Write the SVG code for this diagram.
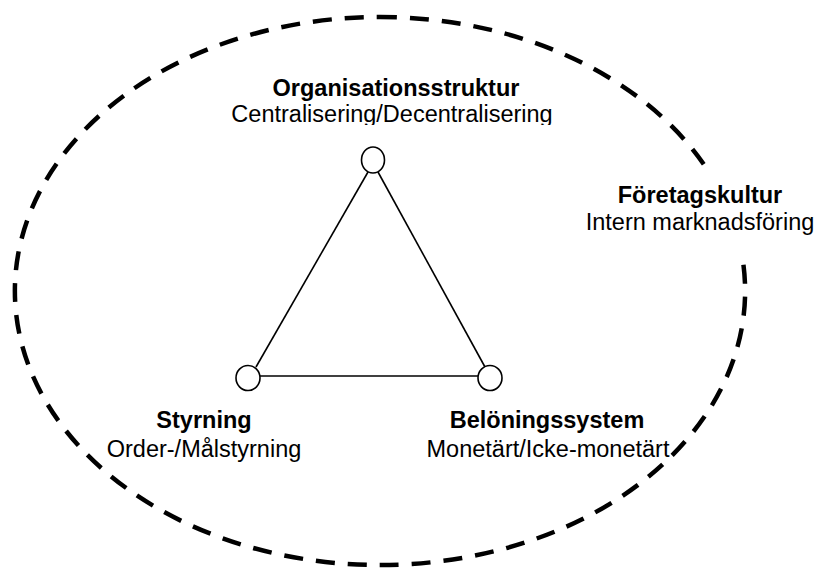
<svg xmlns="http://www.w3.org/2000/svg" width="819" height="574" viewBox="0 0 819 574">
  <style>
    .lbl { font-family: "Liberation Sans", Arial, sans-serif; font-size: 23.5px; fill: #000; text-anchor: middle; }
    .b { font-weight: bold; }
    .node { fill: #fff; stroke: #000; stroke-width: 1.6; }
    .edge { stroke: #000; stroke-width: 1.6; fill: none; }
    .boundary { fill: none; stroke: #000; stroke-width: 4.5; stroke-dasharray: 19 13; stroke-dashoffset: 2; }
  </style>
  <defs>
    <clipPath id="clipTop">
      <rect x="200" y="60" width="400" height="65"/>
    </clipPath>
  </defs>
  <rect width="819" height="574" fill="#fff"/>

  <!-- outer dashed boundary, drawn clockwise from the top -->
  <g id="boundary">
    <path class="boundary" d="M 380 17 A 365 274 0 1 1 380 565 A 365 274 0 1 1 380 17 Z"/>
  </g>

  <!-- triangle connectors -->
  <g id="connectors">
    <line class="edge" x1="368" y1="172" x2="256" y2="367"/>
    <line class="edge" x1="378" y1="172" x2="485" y2="367"/>
    <line class="edge" x1="260" y1="376" x2="478" y2="376"/>
  </g>

  <g id="node-org">
    <ellipse class="node" cx="373" cy="160" rx="11.5" ry="13"/>
  </g>
  <g id="node-styrning">
    <ellipse class="node" cx="248" cy="378" rx="12" ry="12.5"/>
  </g>
  <g id="node-beloning">
    <ellipse class="node" cx="490" cy="378" rx="12" ry="12.5"/>
  </g>

  <!-- labels -->
  <g id="label-org" clip-path="url(#clipTop)">
    <text class="lbl b" x="396" y="96">Organisationsstruktur</text>
    <text class="lbl" x="392" y="122">Centralisering/Decentralisering</text>
  </g>
  <g id="label-kultur">
    <rect x="578" y="174" width="241" height="84" fill="#fff"/>
    <text class="lbl b" x="700" y="203">Företagskultur</text>
    <text class="lbl" x="700" y="230">Intern marknadsföring</text>
  </g>
  <g id="label-styrning">
    <text class="lbl b" x="204" y="428">Styrning</text>
    <text class="lbl" x="204" y="457">Order-/Målstyrning</text>
  </g>
  <g id="label-beloning">
    <text class="lbl b" x="547" y="428">Belöningssystem</text>
    <text class="lbl" x="548" y="457">Monetärt/Icke-monetärt</text>
  </g>
</svg>
